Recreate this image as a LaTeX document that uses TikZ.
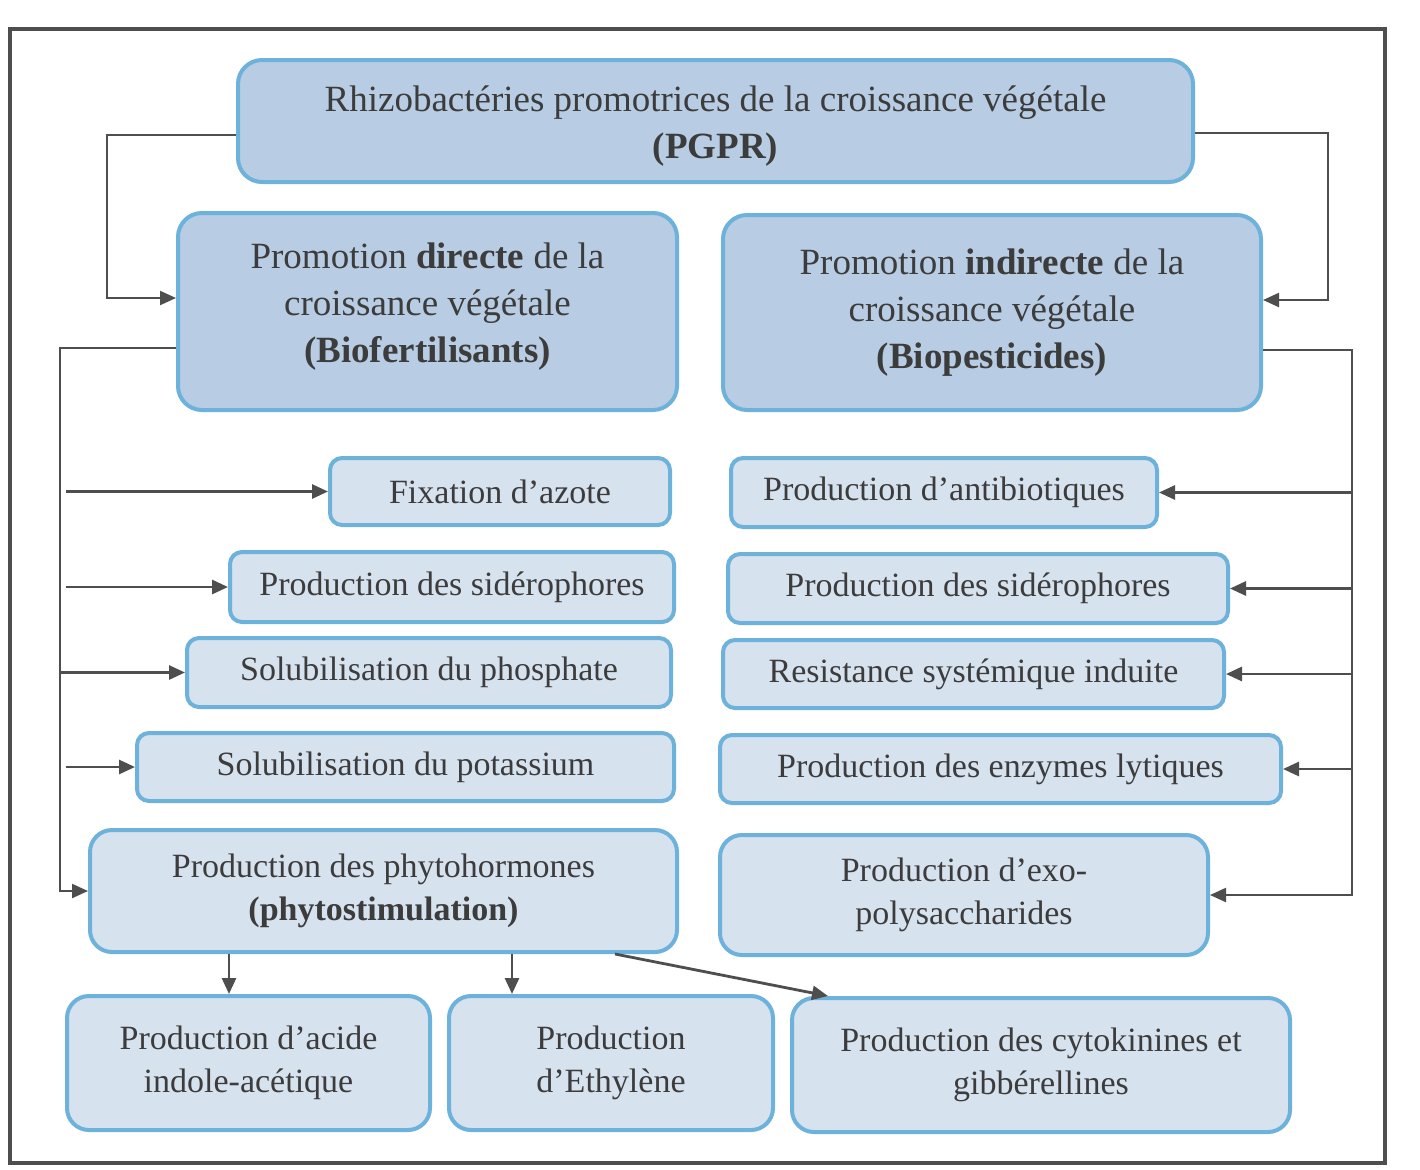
\documentclass[tikz,border=0pt]{standalone}
\usepackage{fontspec}
\setmainfont{Liberation Serif}
\usepackage{xcolor}
\usetikzlibrary{arrows.meta}

\definecolor{txtgray}{HTML}{3C3C3C}
\definecolor{linegray}{HTML}{4E4E4E}
\definecolor{boxline}{HTML}{6CB2DA}
\definecolor{darkfill}{HTML}{B8CDE4}
\definecolor{lightfill}{HTML}{D7E2EF}

\begin{document}
\begin{tikzpicture}[x=0.5pt,y=-0.5pt,
  box/.style={draw=boxline,line width=2pt,rounded corners=6pt,align=center,
    text=txtgray,inner sep=0pt,font=\fontsize{17}{21.5}\selectfont},
  headbox/.style={box,fill=darkfill,rounded corners=12pt,
    font=\fontsize{18.5}{23.5}\selectfont},
  itembox/.style={box,fill=lightfill},
  bigbox/.style={itembox,rounded corners=11pt},
  arr/.style={draw=linegray,line width=1.4pt,-{Triangle[length=8pt,width=7pt]}}]
\useasboundingbox (0,0) rectangle (1420,1169);
\fill[white] (0,0) rectangle (1420,1169);
\draw[linegray,line width=1.8pt] (10,29) rectangle (1385,1163);

% top level
\node[headbox,minimum width=477.5pt,minimum height=61pt] (pgpr) at (715.5,121)
  {\rule{0pt}{18pt}Rhizobactéries promotrices de la croissance végétale\\\textbf{(PGPR)}};
\node[headbox,minimum width=249.5pt,minimum height=98.5pt] (direct) at (427.5,311.5)
  {Promotion \textbf{directe} de la\\croissance végétale\\\textbf{(Biofertilisants)}\rule[-9pt]{0pt}{9pt}};
\node[headbox,minimum width=269pt,minimum height=97.5pt] (indirect) at (992,312.5)
  {Promotion \textbf{indirecte} de la\\croissance végétale\\\textbf{(Biopesticides)}};

% left column
\node[itembox,minimum width=170pt,minimum height=33.5pt] (fix) at (500,491.5) {Fixation d’azote};
\node[itembox,minimum width=222pt,minimum height=35pt] (sidL) at (452,587) {Production des sidérophores};
\node[itembox,minimum width=242pt,minimum height=34.5pt] (phos) at (429,672.5) {Solubilisation du phosphate};
\node[itembox,minimum width=268.5pt,minimum height=34pt] (pot) at (405.5,767) {Solubilisation du potassium};
\node[bigbox,minimum width=293.5pt,minimum height=61pt] (phyto) at (383.5,891)
  {Production des phytohormones\\\textbf{(phytostimulation)}};

% right column
\node[itembox,minimum width=213pt,minimum height=34.5pt] (anti) at (944,492.5) {Production d’antibiotiques};
\node[itembox,minimum width=250pt,minimum height=34.5pt] (sidR) at (978,588.5) {Production des sidérophores};
\node[itembox,minimum width=250.5pt,minimum height=34pt] (res) at (973.5,674) {Resistance systémique induite};
\node[itembox,minimum width=280.5pt,minimum height=34pt] (enz) at (1000.5,769) {Production des enzymes lytiques};
\node[bigbox,minimum width=244pt,minimum height=60pt] (exo) at (964,895)
  {Production d’exo-\\polysaccharides};

% phytohormones
\node[bigbox,minimum width=181.5pt,minimum height=67pt] (iaa) at (248.5,1063)
  {Production d’acide\\indole-acétique};
\node[bigbox,minimum width=162pt,minimum height=67pt] (eth) at (611,1063)
  {Production\\d’Ethylène};
\node[bigbox,minimum width=249pt,minimum height=67pt] (cyto) at (1041,1065)
  {Production des cytokinines et\\gibbérellines};

\coordinate (busL) at (60,0);
\coordinate (busR) at (1352,0);

\draw[arr,line width=1.1pt] (pgpr.west|-0,135) -| (107,298) -- (direct.west|-0,298);
\draw[arr,line width=1.1pt] (pgpr.east|-0,133) -| (1328,300) -- (indirect.east|-0,300);

\draw[arr,line width=1.1pt] (direct.west|-0,348) -| (busL|-phyto) -- (phyto.west);
\foreach \n in {fix,sidL,pot}
  \draw[arr] ([xshift=3pt]busL|-\n) -- (\n.west);
\draw[arr] (busL|-phos) -- (phos.west);

\draw[arr,line width=1.1pt] (indirect.east|-0,350) -| (busR|-exo) -- (exo.east);
\foreach \n in {anti,sidR,res,enz}
  \draw[arr] (busR|-\n) -- (\n.east);

\draw[arr] (phyto.south-|iaa.north) ++(-19.5,0) -- ([xshift=-9.75pt]iaa.north);
\draw[arr] (phyto.south-|eth.north) ++(-99,0) -- ([xshift=-49.5pt]eth.north);
\draw[arr] (615,954) -- ([xshift=19pt]cyto.north west);
\end{tikzpicture}
\end{document}
